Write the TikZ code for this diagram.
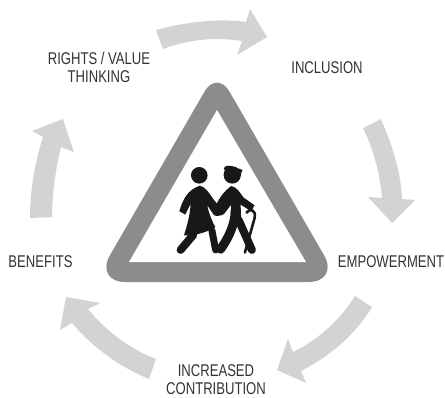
\documentclass[tikz,border=0pt]{standalone}
\usepackage{fontspec}
\setmainfont[FakeStretch=0.77]{Liberation Sans}
\definecolor{arrowgray}{HTML}{D1D3D4}
\definecolor{signgray}{HTML}{8A8C8E}
\definecolor{inkgray}{HTML}{333333}
\definecolor{figblack}{HTML}{1A1718}
\tikzset{
  cyclearrow/.style={fill=arrowgray,draw=none},
  steplabel/.style={text=inkgray,font=\fontsize{17}{18}\selectfont,align=center,inner sep=0pt},
  figstroke/.style={draw=figblack,line cap=round,line join=round},
}
\begin{document}
\begin{tikzpicture}[x=1pt,y=-1pt]
\useasboundingbox (0,0) rectangle (445,397);
\fill[white] (0,0) rectangle (445,397);
% cycle arrows
\path[cyclearrow] (156,30) .. controls (185,22) and (220,18) .. (246,22) -- (250,9) -- (267,37) -- (237,55) -- (242,41) .. controls (215,37) and (190,39) .. (163,49) -- cycle;
\path[cyclearrow] (381,119) .. controls (392,145) and (401,172) .. (402,199) -- (415,200) -- (392,223) -- (368,197) -- (382,198) .. controls (380,175) and (374,150) .. (363,128) -- cycle;
\path[cyclearrow] (372,307) .. controls (355,335) and (330,356) .. (301,371) -- (306,383) -- (277,370) -- (288,339) -- (293,352) .. controls (318,340) and (340,320) .. (355,296) -- cycle;
\path[cyclearrow] (149,379) .. controls (122,368) and (94,349) .. (72,323) -- (60,330) -- (66,297) -- (100,303) -- (88,309) .. controls (107,332) and (130,349) .. (156,359) -- cycle;
\path[cyclearrow] (30,218) .. controls (30,190) and (35,162) .. (43,137) -- (32,131) -- (63,119) -- (74,152) -- (61,147) .. controls (56,168) and (52,192) .. (52,217) -- cycle;
% sign
\fill[signgray] (217,282) [rounded corners=31pt] -- (94.5,282) [rounded corners=25pt] -- (217,70) [rounded corners=31pt] -- (339.5,282) -- cycle;
\fill[white] (217,110) -- (306,262) -- (129,262) -- cycle;
% figures, in units of a third of a pixel
\begin{scope}[shift={(150,140)},x=0.333pt,y=-0.333pt]
  % woman
  \fill[figblack] (148,106) circle (25);
  \fill[figblack] (150,137) .. controls (168,142) and (178,160) .. (188,175) -- (205,196) -- (222,214) -- (214,226) .. controls (205,228) and (198,230) .. (192,226) -- (172,196) .. controls (175,215) and (185,240) .. (196,262) .. controls (165,280) and (130,288) .. (102,286) .. controls (112,255) and (120,225) .. (122,192) -- (106,224) -- (88,214) .. controls (98,180) and (112,150) .. (150,137) -- cycle;
  \draw[figstroke,line width=8pt] (130,285) -- (92,330);
  \draw[figstroke,line width=7pt] (186,272) -- (197,330);
  % man
  \fill[figblack] (247,105) circle (26);
  \fill[figblack] (222,85) .. controls (225,75) and (240,76) .. (250,80) -- (278,90) -- (272,104) -- (228,100) -- cycle;
  \fill[figblack] (244,138) .. controls (262,142) and (270,158) .. (280,172) -- (314,196) -- (304,214) -- (272,194) -- (274,240) -- (258,262) -- (240,215) -- (214,226) -- (198,196) .. controls (210,170) and (225,152) .. (244,138) -- cycle;
  \draw[figstroke,line width=9pt] (256,205) .. controls (258,250) and (235,295) .. (212,328);
  \draw[figstroke,line width=8pt] (266,240) -- (306,330);
  % cane
  \draw[figstroke,line width=2.6pt] (290,218) .. controls (298,205) and (320,208) .. (314,235) -- (285,338);
  % white gap between the pair
  \fill[white] (220,226) -- (243,196) .. controls (244,225) and (232,258) .. (207,290) -- (198,262) .. controls (190,245) and (186,232) .. (184,222) .. controls (192,232) and (205,236) .. (220,226) -- cycle;
\end{scope}
% labels
\node[steplabel] (rights) at (99,67.5) {RIGHTS / VALUE\\THINKING};
\node[steplabel] (inclusion) at (327,68) {INCLUSION};
\node[steplabel] (empowerment) at (391,262) {EMPOWERMENT};
\node[steplabel] (contribution) at (216,379.5) {INCREASED\\CONTRIBUTION};
\node[steplabel] (benefits) at (40.5,262) {BENEFITS};
\end{tikzpicture}
\end{document}
